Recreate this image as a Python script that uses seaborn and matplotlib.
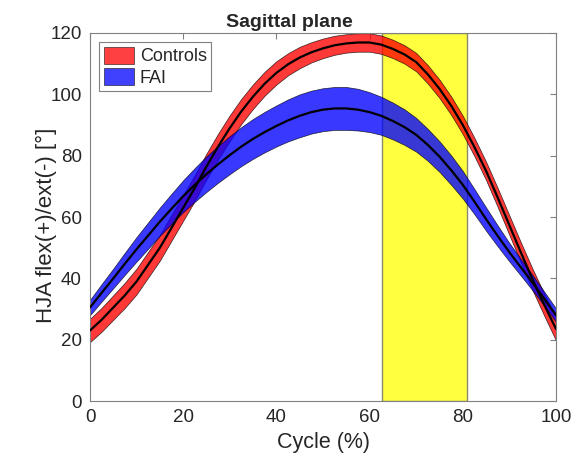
import numpy as np
import pandas as pd
import matplotlib
matplotlib.use("Agg")
import matplotlib.pyplot as plt
import seaborn as sns
from matplotlib.patches import Patch

cycle = [0, 2.5, 5, 7.5, 10, 12.5, 15, 17.5, 20, 22.5, 25, 27.5, 30, 32.5, 35, 37.5, 40,
         42.5, 45, 47.5, 50, 52.5, 55, 57.5, 60, 62.5, 65, 67.5, 70, 72.5, 75, 77.5, 80,
         82.5, 85, 87.5, 90, 92.5, 95, 97.5, 100]
controls_mean = [23, 26.5, 30.5, 34.5, 39, 44.5, 50, 56.5, 63, 69.5, 76.5, 83, 89, 94.5, 99.3,
                 103.5, 107, 109.8, 112, 113.7, 115, 116, 116.6, 116.9, 116.9, 116.2, 114.8,
                 113, 110.5, 106.5, 101.8, 96.3, 90, 82.8, 75, 66.3, 57.3, 48.3, 39.5, 31.3, 23.5]
controls_sd = [3.8, 3.9, 4.0, 4.1, 4.2, 4.2, 4.2, 4.2, 4.2, 4.2, 4.2, 4.2, 4.2, 4.1, 4.0, 3.9,
               3.8, 3.6, 3.5, 3.3, 3.2, 3.1, 3.0, 3.0, 3.0, 3.0, 3.0, 3.0, 3.0, 3.0, 3.0, 3.0,
               3.0, 3.0, 3.0, 3.1, 3.2, 3.3, 3.5, 3.6, 3.8]
fai_mean = [30.5, 35.3, 40, 44.8, 49.5, 54, 58.5, 62.7, 66.8, 70.5, 74, 77.2, 80.2, 83, 85.5,
            87.7, 89.7, 91.5, 93, 94.2, 95, 95.4, 95.4, 95, 94.2, 93, 91.3, 89.3, 86.8, 83.5,
            79.7, 75.3, 70.5, 65, 59.3, 53.8, 48.5, 43.5, 38.5, 33.3, 28]
fai_sd = [2.5, 2.85, 3.2, 3.6, 4.0, 4.3, 4.6, 4.9, 5.2, 5.5, 5.8, 6.0, 6.2, 6.35, 6.5, 6.6,
          6.7, 6.85, 7.0, 7.0, 7.0, 7.0, 7.0, 6.8, 6.5, 6.2, 6.0, 5.8, 5.5, 5.2, 5.0, 4.8,
          4.5, 4.1, 3.8, 3.4, 3.0, 2.7, 2.5, 2.3, 2.2]
groups = ["Controls", "FAI"]
group_colors = ["#ff0000", "#0000ff"]
highlight = [62.7, 80.8]
title = "Sagittal plane"
xlabel = "Cycle (%)"
ylabel = "HJA flex(+)/ext(-) [°]"

df = pd.DataFrame({
    "cycle": cycle * 2,
    "mean": controls_mean + fai_mean,
    "sd": controls_sd + fai_sd,
    "group": ["Controls"] * len(cycle) + ["FAI"] * len(cycle),
})

sns.set_style("white")
plt.rcParams['font.family'] = ['Liberation Sans', 'DejaVu Sans']

fig = plt.figure(figsize=(5.83, 4.57), dpi=100)
ax = fig.add_axes([0.1544, 0.1225, 0.7993, 0.8053])

ax.axvspan(highlight[0], highlight[1], facecolor="#ffff40", edgecolor="#8a8a6a",
           linewidth=1.0, zorder=1)

for g, c in zip(groups, group_colors):
    d = df[df["group"] == g]
    ax.fill_between(d["cycle"], d["mean"] - d["sd"], d["mean"] + d["sd"],
                    facecolor=c, alpha=0.78, edgecolor="black", linewidth=0.5, zorder=2)

sns.lineplot(data=df, x="cycle", y="mean", units="group", estimator=None,
             color="black", linewidth=1.6, ax=ax, zorder=3, legend=False)

ax.set_xlim(0, 100)
ax.set_ylim(0, 120)
ax.set_xticks([0, 20, 40, 60, 80, 100])
ax.set_yticks([0, 20, 40, 60, 80, 100, 120])
ax.tick_params(direction="in", length=4, width=0.8, color="#808080",
               top=True, right=True, labelsize=13.5, labelcolor="#262626", pad=6)
for s in ax.spines.values():
    s.set_color("#808080")
    s.set_linewidth(0.8)
    s.set_visible(True)

ax.set_title(title, fontsize=14, fontweight="bold", pad=4, x=0.428)
ax.set_xlabel(xlabel, fontsize=15.5, color="#262626", labelpad=4)
ax.set_ylabel(ylabel, fontsize=16, color="#262626")
ax.yaxis.set_label_coords(-0.07, 0.478)

handles = [Patch(facecolor=c, edgecolor="black", linewidth=0.5, alpha=0.75) for c in group_colors]
leg = ax.legend(handles, groups, loc="upper left", fontsize=13, frameon=True,
                fancybox=False, edgecolor="#808080", framealpha=1,
                handlelength=1.7, handleheight=1.1, handletextpad=0.3,
                borderpad=0.25, labelspacing=0.15, borderaxespad=0.5)
leg.get_frame().set_linewidth(0.8)

fig.savefig("out.png", dpi=100)
